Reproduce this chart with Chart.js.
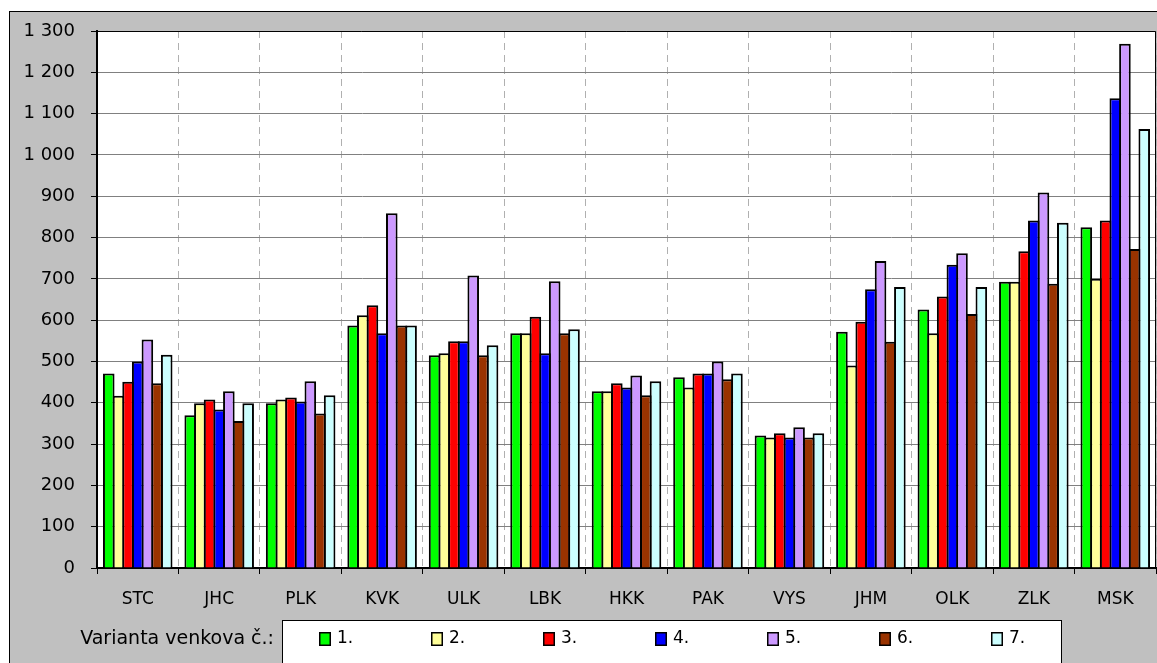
<!DOCTYPE html>
<html>
<head>
<meta charset="utf-8">
<script src="https://cdn.jsdelivr.net/npm/chart.js@4.4.0/dist/chart.umd.min.js"></script>
<style>
    html, body { margin: 0; padding: 0; background: #fff; }
    #wrap { width: 1157px; height: 663px; }
</style>
</head>
<body>
<div id="wrap"><canvas id="variantsChart" width="1157" height="663"></canvas></div>
<script>
// regions (kraje) on the x axis
var categories = ['STC', 'JHC', 'PLK', 'KVK', 'ULK', 'LBK', 'HKK', 'PAK', 'VYS', 'JHM', 'OLK', 'ZLK', 'MSK'];

// one array per variant
var variant1 = [471, 370, 399, 587, 515, 568, 428, 462, 321, 572, 626, 693, 825];
var variant2 = [417, 399, 408, 612, 520, 568, 428, 437, 316, 490, 568, 693, 700];
var variant3 = [451, 408, 413, 636, 549, 608, 447, 471, 326, 596, 657, 767, 841];
var variant4 = [500, 384, 403, 568, 549, 520, 437, 471, 316, 675, 734, 841, 1137];
var variant5 = [553, 428, 452, 859, 708, 694, 466, 500, 341, 743, 762, 909, 1269];
var variant6 = [447, 356, 374, 587, 515, 568, 418, 457, 316, 548, 615, 688, 772];
var variant7 = [516, 399, 418, 587, 539, 578, 452, 471, 326, 680, 680, 836, 1063];

var seriesLabels = ['1.', '2.', '3.', '4.', '5.', '6.', '7.'];
var seriesColors = ['#00ff00', '#ffff99', '#ff0000', '#0000ff', '#cc99ff', '#993300', '#ccffff'];
var legendTitle = 'Varianta venkova č.:';

// y axis range
var yMin = 0;
var yMax = 1300;
var yStep = 100;

document.addEventListener("DOMContentLoaded", function() {
    Chart.defaults.font.family = "'DejaVu Sans', sans-serif";
    Chart.defaults.color = '#000';

    var allSeries = [variant1, variant2, variant3, variant4, variant5, variant6, variant7];
    // bars a bit wider than their slot so neighbouring outlines overlap into one line
    var datasets = allSeries.map(function(values, i) {
        return {
            label: seriesLabels[i],
            data: values,
            backgroundColor: seriesColors[i],
            borderColor: '#000',
            borderWidth: 2,
            borderSkipped: 'bottom',
            categoryPercentage: 0.83,
            barPercentage: 1.2
        };
    });

    // grey frame + white plot area
    var framePlugin = {
        id: 'frame',
        beforeDraw: function(chart) {
            var ctx = chart.ctx, a = chart.chartArea;
            ctx.save();
            ctx.fillStyle = '#fff';
            ctx.fillRect(0, 0, chart.width, chart.height);
            ctx.fillStyle = '#c0c0c0';
            ctx.fillRect(9, 11, chart.width, chart.height);
            ctx.strokeStyle = '#000';
            ctx.lineWidth = 1;
            ctx.strokeRect(9.5, 11.5, chart.width + 20, chart.height + 20);
            ctx.fillStyle = '#fff';
            ctx.fillRect(a.left, a.top, a.right - a.left, a.bottom - a.top);
            ctx.restore();
        },
        afterDraw: function(chart) {
            var ctx = chart.ctx, a = chart.chartArea;
            ctx.save();
            ctx.strokeStyle = '#000';
            ctx.lineWidth = 1;
            ctx.beginPath();
            ctx.moveTo(a.left, a.top + 0.5);
            ctx.lineTo(a.right - 0.5, a.top + 0.5);
            ctx.lineTo(a.right - 0.5, a.bottom);
            ctx.stroke();
            ctx.restore();
        }
    };

    // legend drawn in the bottom strip, like the Excel one
    var legendPlugin = {
        id: 'boxLegend',
        afterDraw: function(chart) {
            var ctx = chart.ctx;
            ctx.save();
            ctx.font = "19px 'DejaVu Sans'";
            ctx.fillStyle = '#000';
            ctx.textAlign = 'right';
            ctx.textBaseline = 'middle';
            ctx.fillText(legendTitle, 274, 639);

            ctx.fillStyle = '#fff';
            ctx.fillRect(282, 620, 779, 60);
            ctx.strokeStyle = '#000';
            ctx.lineWidth = 1;
            ctx.strokeRect(282.5, 620.5, 779, 60);

            ctx.font = "17px 'DejaVu Sans'";
            ctx.textAlign = 'left';
            chart.data.datasets.forEach(function(ds, i) {
                var x = 319 + i * 112;
                ctx.fillStyle = ds.backgroundColor;
                ctx.fillRect(x, 632, 12, 14);
                ctx.strokeStyle = '#000';
                ctx.lineWidth = 1.5;
                ctx.strokeRect(x + 0.75, 632.75, 10.5, 12.5);
                ctx.fillStyle = '#000';
                ctx.fillText(ds.label, x + 18, 639);
            });
            ctx.restore();
        }
    };

    var ctx = document.getElementById('variantsChart').getContext('2d');
    var variantsChart = new Chart(ctx, {
        type: 'bar',
        data: {
            labels: categories,
            datasets: datasets
        },
        options: {
            responsive: false,
            animation: false,
            layout: { padding: { top: 31, right: 1, left: 0, bottom: 0 } },
            plugins: {
                legend: { display: false },
                tooltip: { enabled: false }
            },
            scales: {
                x: {
                    grid: {
                        offset: true,
                        color: '#b0b0b0',
                        lineWidth: 1,
                        tickLength: 6,
                        tickColor: '#000',
                        tickBorderDash: []
                    },
                    border: { color: '#000', width: 2, dash: [7, 5] },
                    ticks: {
                        font: { size: 17 },
                        padding: 15,
                        maxRotation: 0,
                        autoSkip: false
                    },
                    afterFit: function(scale) { scale.height = 95; }
                },
                y: {
                    min: yMin,
                    max: yMax,
                    grid: {
                        color: '#808080',
                        lineWidth: 1,
                        tickLength: 6,
                        tickColor: '#000'
                    },
                    border: { color: '#000', width: 2 },
                    ticks: {
                        stepSize: yStep,
                        font: { size: 18 },
                        padding: 16,
                        callback: function(v) {
                            return String(v).replace(/\B(?=(\d{3})+(?!\d))/g, ' ');
                        }
                    },
                    afterFit: function(scale) { scale.width = 97; }
                }
            }
        },
        plugins: [framePlugin, legendPlugin]
    });
});
</script>
</body>
</html>
